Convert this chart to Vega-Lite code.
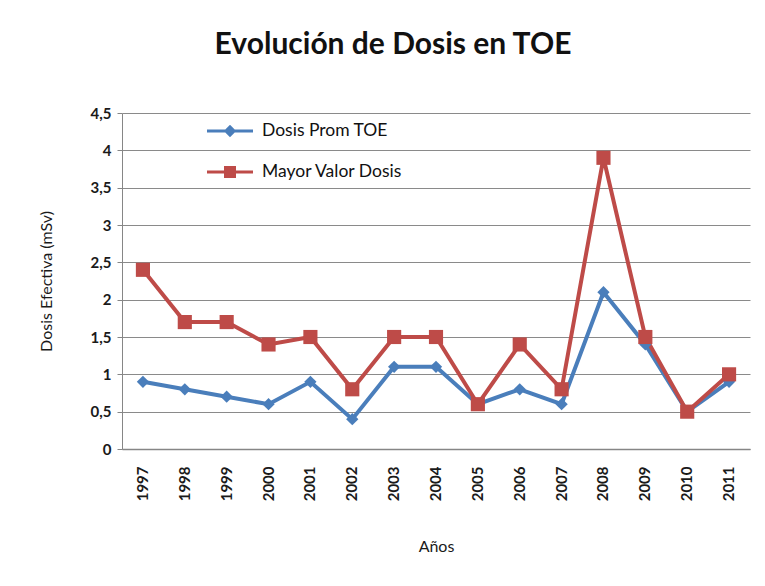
{
  "$schema": "https://vega.github.io/schema/vega-lite/v6.json",
  "width": 628,
  "height": 336,
  "autosize": {"type": "none"},
  "padding": {"left": 122, "top": 113, "right": 15, "bottom": 137},
  "background": "white",
  "config": {
    "font": "Lato",
    "view": {"stroke": null},
    "axis": {"labelFont": "Lato", "titleFont": "Lato", "labelColor": "#1a1a1a", "titleColor": "#1a1a1a"}
  },
  "title": {
    "text": "Evolución de Dosis en TOE",
    "fontSize": 30,
    "font": "Lato",
    "fontWeight": "bold",
    "color": "#111111",
    "anchor": "middle",
    "dx": -43,
    "offset": 46
  },
  "data": {
    "values": [
      {"anio": "1997", "serie": "Dosis Prom TOE", "valor": 0.9},
      {"anio": "1998", "serie": "Dosis Prom TOE", "valor": 0.8},
      {"anio": "1999", "serie": "Dosis Prom TOE", "valor": 0.7},
      {"anio": "2000", "serie": "Dosis Prom TOE", "valor": 0.6},
      {"anio": "2001", "serie": "Dosis Prom TOE", "valor": 0.9},
      {"anio": "2002", "serie": "Dosis Prom TOE", "valor": 0.4},
      {"anio": "2003", "serie": "Dosis Prom TOE", "valor": 1.1},
      {"anio": "2004", "serie": "Dosis Prom TOE", "valor": 1.1},
      {"anio": "2005", "serie": "Dosis Prom TOE", "valor": 0.6},
      {"anio": "2006", "serie": "Dosis Prom TOE", "valor": 0.8},
      {"anio": "2007", "serie": "Dosis Prom TOE", "valor": 0.6},
      {"anio": "2008", "serie": "Dosis Prom TOE", "valor": 2.1},
      {"anio": "2009", "serie": "Dosis Prom TOE", "valor": 1.4},
      {"anio": "2010", "serie": "Dosis Prom TOE", "valor": 0.5},
      {"anio": "2011", "serie": "Dosis Prom TOE", "valor": 0.9},
      {"anio": "1997", "serie": "Mayor Valor Dosis", "valor": 2.4},
      {"anio": "1998", "serie": "Mayor Valor Dosis", "valor": 1.7},
      {"anio": "1999", "serie": "Mayor Valor Dosis", "valor": 1.7},
      {"anio": "2000", "serie": "Mayor Valor Dosis", "valor": 1.4},
      {"anio": "2001", "serie": "Mayor Valor Dosis", "valor": 1.5},
      {"anio": "2002", "serie": "Mayor Valor Dosis", "valor": 0.8},
      {"anio": "2003", "serie": "Mayor Valor Dosis", "valor": 1.5},
      {"anio": "2004", "serie": "Mayor Valor Dosis", "valor": 1.5},
      {"anio": "2005", "serie": "Mayor Valor Dosis", "valor": 0.6},
      {"anio": "2006", "serie": "Mayor Valor Dosis", "valor": 1.4},
      {"anio": "2007", "serie": "Mayor Valor Dosis", "valor": 0.8},
      {"anio": "2008", "serie": "Mayor Valor Dosis", "valor": 3.9},
      {"anio": "2009", "serie": "Mayor Valor Dosis", "valor": 1.5},
      {"anio": "2010", "serie": "Mayor Valor Dosis", "valor": 0.5},
      {"anio": "2011", "serie": "Mayor Valor Dosis", "valor": 1.0}
    ]
  },
  "encoding": {
    "x": {
      "field": "anio",
      "type": "ordinal",
      "scale": {"type": "band", "paddingInner": 0, "paddingOuter": 0},
      "axis": {
        "title": "Años",
        "titleFontSize": 16,
        "titleFontWeight": "normal",
        "titlePadding": 38,
        "labelAngle": -90,
        "labelFontSize": 15,
        "labelFontWeight": "bold",
        "labelPadding": 17,
        "ticks": false,
        "domainColor": "#868686",
        "domainWidth": 1.5,
        "grid": false
      }
    },
    "y": {
      "field": "valor",
      "type": "quantitative",
      "scale": {"domain": [0, 4.5], "nice": false},
      "axis": {
        "title": "Dosis Efectiva (mSv)",
        "titleFontSize": 16,
        "titleFontWeight": "normal",
        "titlePadding": 36,
        "values": [0, 0.5, 1, 1.5, 2, 2.5, 3, 3.5, 4, 4.5],
        "labelExpr": "replace(toString(datum.value), '.', ',')",
        "labelFontSize": 15,
        "labelFontWeight": "bold",
        "labelPadding": 6,
        "tickSize": 5,
        "tickColor": "#868686",
        "domainColor": "#868686",
        "gridColor": "#8a8a8a",
        "gridWidth": 1
      }
    },
    "color": {
      "field": "serie",
      "type": "nominal",
      "scale": {"domain": ["Dosis Prom TOE", "Mayor Valor Dosis"], "range": ["#4A7EBB", "#BE4B48"]},
      "legend": {
        "title": null,
        "orient": "none",
        "legendX": 92,
        "legendY": 8,
        "rowPadding": 22,
        "labelFontSize": 17.5,
        "labelColor": "#111111",
        "symbolSize": 400,
        "labelOffset": 22,
        "symbolOffset": 6,
        "encode": {
          "symbols": {
            "update": {
              "shape": {"signal": "datum.label === 'Dosis Prom TOE' ? 'M-2.3,-0.15H2.3V0.15H-2.3Z M0,-0.62L0.62,0L0,0.62L-0.62,0Z' : 'M-2.3,-0.15H2.3V0.15H-2.3Z M-0.6,-0.6H0.6V0.6H-0.6Z'"},
              "fill": {"signal": "datum.label === 'Dosis Prom TOE' ? '#4A7EBB' : '#BE4B48'"},
              "strokeWidth": {"value": 0},
              "opacity": {"value": 1}
            }
          }
        }
      }
    }
  },
  "layer": [
    {"mark": {"type": "line", "strokeWidth": 4}},
    {
      "transform": [{"filter": "datum.serie === 'Dosis Prom TOE'"}],
      "mark": {"type": "point", "filled": true, "opacity": 1, "shape": "diamond", "size": 150}
    },
    {
      "transform": [{"filter": "datum.serie === 'Mayor Valor Dosis'"}],
      "mark": {"type": "point", "filled": true, "opacity": 1, "shape": "square", "size": 200}
    }
  ]
}
